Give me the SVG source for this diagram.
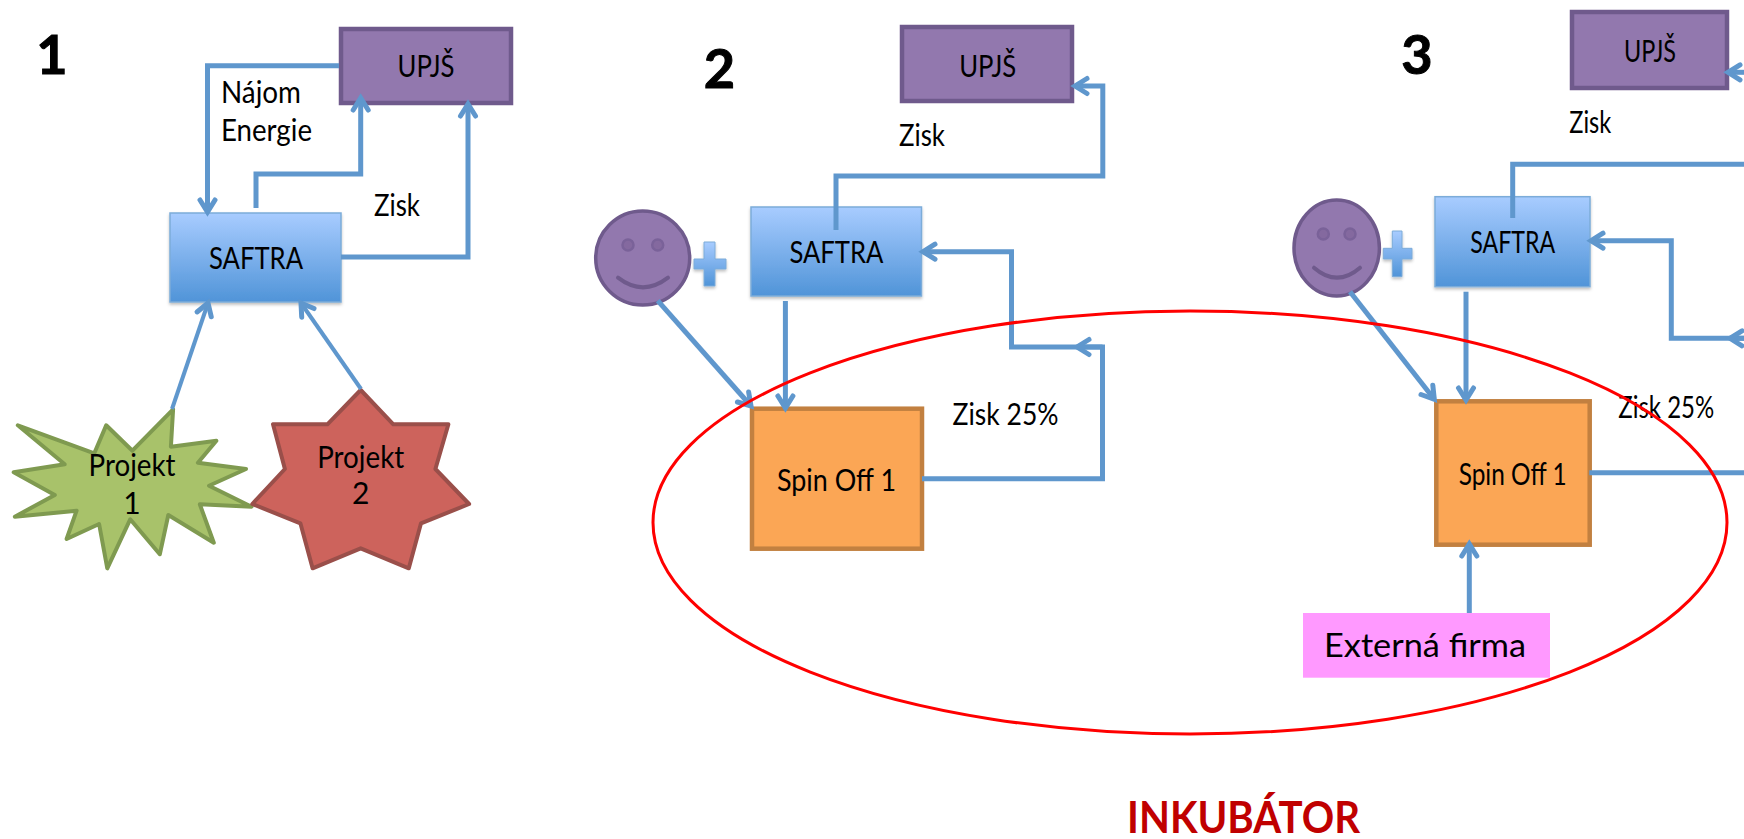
<svg xmlns="http://www.w3.org/2000/svg" width="1744" height="839" viewBox="0 0 1744 839">
<style>
text{font-family:Lato,"Liberation Sans",sans-serif;fill:#000;font-size:30px}
.m{text-anchor:middle}
.num{font-weight:700;font-size:54px;text-anchor:middle;stroke:#000;stroke-width:1}
.up{fill:#9278ae;stroke:#6f5a8c;stroke-width:4.500}
.saf{fill:url(#blue);stroke:#7cacd9;stroke-width:1.500;filter:url(#sh)}
.spin{fill:#fba655;stroke:#c28040;stroke-width:4.500}
.face{fill:#9278ae;stroke:#6f5a8c;stroke-width:3.500}
.eye{fill:#84699f;stroke:#7a6299;stroke-width:2.500}
.smile{fill:none;stroke:#6f5a8c;stroke-width:4;stroke-linecap:round}
.plus{fill:url(#blue);stroke:#7cacd9;stroke-width:1;filter:url(#sh)}
.c{fill:none;stroke:#5f97cd;stroke-width:5;stroke-linejoin:miter}
.a{marker-end:url(#arr)}
</style>
<defs>
<linearGradient id="blue" x1="0" y1="0" x2="0" y2="1"><stop offset="0" stop-color="#a8ccff"/><stop offset="1" stop-color="#5094d8"/></linearGradient>
<filter id="sh" x="-10%" y="-10%" width="120%" height="125%"><feDropShadow dx="0" dy="2" stdDeviation="1.500" flood-color="#000" flood-opacity="0.25"/></filter>
<marker id="arr" markerUnits="userSpaceOnUse" markerWidth="24" markerHeight="24" refX="18" refY="12" orient="auto" viewBox="0 0 24 24"><path d="M6,4.500 L18,12 L6,19.500" fill="none" stroke="#5f97cd" stroke-width="5" stroke-linecap="round" stroke-linejoin="miter"/></marker>
</defs>
<rect width="1744" height="839" fill="#fff"/>

<g id="label-1"><text class="num" x="52" y="74">1</text></g>
<g id="label-2"><text class="num" x="719.500" y="88">2</text></g>
<g id="label-3"><text class="num" x="1417" y="74">3</text></g>

<g id="upjs-1"><rect class="up" x="341" y="29" width="170" height="74"/><text class="m" x="426" y="77" textLength="57" lengthAdjust="spacingAndGlyphs">UPJŠ</text></g>
<g id="saftra-1"><rect class="saf" x="170" y="213" width="171" height="89"/><text class="m" x="256" y="269" textLength="94" lengthAdjust="spacingAndGlyphs">SAFTRA</text></g>
<g id="projekt-1"><polygon points="173.100,409.300 170.900,446.700 216.400,440.700 197.900,462.700 246,469 209,485.700 251.600,506.700 199.800,504.300 213.800,542.700 168.300,515 159.800,554.300 130.200,519.300 107.300,568.300 99.100,524 66.600,539 76.600,510.700 14.800,516.700 54.800,495 13.700,472.300 64.700,464.300 17.800,425.300 94.300,453.300 106.200,425.300 132.400,450.700" fill="#a8c26a" stroke="#7f9a50" stroke-width="4" stroke-linejoin="round"/><text class="m" x="132" y="476" textLength="87" lengthAdjust="spacingAndGlyphs">Projekt</text><text class="m" x="132" y="514">1</text></g>
<g id="projekt-2"><polygon points="360.700,390 393.300,424.300 448.400,424.300 435.400,469 469.100,504 421,523.300 408.800,568.300 360.700,548.300 312.600,568.300 300.400,523.300 252.300,504 284.900,469 273,424.300 327.400,424.300" fill="#cd635c" stroke="#9a4f4a" stroke-width="4" stroke-linejoin="round"/><text class="m" x="360.700" y="467.700" textLength="87" lengthAdjust="spacingAndGlyphs">Projekt</text><text class="m" x="360.700" y="504">2</text></g>

<g id="upjs-2"><rect class="up" x="902" y="27" width="170" height="74"/><text class="m" x="987.700" y="76.700" textLength="57" lengthAdjust="spacingAndGlyphs">UPJŠ</text></g>
<g id="saftra-2"><rect class="saf" x="751" y="207" width="170.500" height="89"/><text class="m" x="836.400" y="263" textLength="94" lengthAdjust="spacingAndGlyphs">SAFTRA</text></g>
<g id="person-2"><ellipse class="face" cx="642.700" cy="258" rx="47" ry="47"/><circle class="eye" cx="628" cy="245" r="5.500"/><circle class="eye" cx="657.700" cy="245" r="5.500"/><path class="smile" d="M618,277.700 Q643,297 668,277.700"/></g>
<g id="plus-2"><path class="plus" d="M704,242H715V259H726V269H715V286H704V269H694V259H704Z"/></g>
<g id="spinoff-2"><rect class="spin" x="752" y="408.700" width="170" height="140"/><text class="m" x="836.500" y="490.700" textLength="119" lengthAdjust="spacingAndGlyphs">Spin Off 1</text></g>

<g id="upjs-3"><rect class="up" x="1572" y="12" width="155" height="76"/><text class="m" x="1650" y="62.300" textLength="52" lengthAdjust="spacingAndGlyphs">UPJŠ</text></g>
<g id="saftra-3"><rect class="saf" x="1435" y="196.700" width="155" height="90"/><text class="m" x="1512.700" y="253.300" textLength="85" lengthAdjust="spacingAndGlyphs">SAFTRA</text></g>
<g id="person-3"><ellipse class="face" cx="1336.700" cy="248" rx="42.700" ry="48"/><circle class="eye" cx="1323.300" cy="234" r="5.500"/><circle class="eye" cx="1350" cy="234" r="5.500"/><path class="smile" d="M1314,267.700 Q1337,287.700 1360,267.700"/></g>
<g id="plus-3"><path class="plus" d="M1392.300,231H1402V248.300H1412V259H1402V276.700H1392.300V259H1383.300V248.300H1392.300Z"/></g>
<g id="spinoff-3"><rect class="spin" x="1436.300" y="401.300" width="153.400" height="143.400"/><text class="m" x="1512.700" y="485" textLength="108" lengthAdjust="spacingAndGlyphs">Spin Off 1</text></g>
<g id="externa"><rect x="1303" y="613" width="247" height="64.700" fill="#ff99ff"/><text x="1324" y="657.300" style="font-size:33px" textLength="202" lengthAdjust="spacingAndGlyphs">Externá firma</text></g>

<g id="labels">
<text x="221" y="103" textLength="80" lengthAdjust="spacingAndGlyphs">Nájom</text>
<text x="221" y="141" textLength="91" lengthAdjust="spacingAndGlyphs">Energie</text>
<text x="374" y="216" textLength="46" lengthAdjust="spacingAndGlyphs">Zisk</text>
<text x="899" y="146" textLength="46" lengthAdjust="spacingAndGlyphs">Zisk</text>
<text x="952.600" y="425" textLength="106" lengthAdjust="spacingAndGlyphs">Zisk 25%</text>
<text x="1569.300" y="133.300" textLength="42" lengthAdjust="spacingAndGlyphs">Zisk</text>
<text x="1618.300" y="418.300" textLength="96" lengthAdjust="spacingAndGlyphs">Zisk 25%</text>
<text x="1127" y="833" style="font-size:43px;font-weight:700;fill:#c00000" textLength="233" lengthAdjust="spacingAndGlyphs">INKUBÁTOR</text>
</g>

<g id="connectors">
<path class="c a" d="M339,65.700H207.500V212"/>
<path class="c a" d="M256,208V174H360.700V98"/>
<path class="c a" d="M341,257H468V104"/>
<path class="c a" style="stroke-width:4" d="M172,409L208,303"/>
<path class="c a" style="stroke-width:4" d="M361,389L301,303"/>
<path class="c a" d="M836,230V176H1102.800V86H1075"/>
<path class="c a" d="M922,478.700H1102.500V347H1077"/>
<path class="c a" d="M1102.500,347H1011.500V251.700H923"/>
<path class="c a" d="M657.700,300.700L751,406"/>
<path class="c a" d="M785.400,301V408"/>
<path class="c a" d="M1760,72.300H1728"/>
<path class="c" d="M1512.700,218V164.300H1744"/>
<path class="c a" d="M1760,338.300H1671.300V240.700H1591"/>
<path class="c a" d="M1760,338.300H1730"/>
<path class="c a" d="M1350,291.700L1434.300,399.300"/>
<path class="c a" d="M1466,291.700V400"/>
<path class="c" d="M1589.300,472.700H1744"/>
<path class="c a" d="M1469.300,613V544"/>
</g>

<g id="inkubator"><ellipse cx="1190" cy="522.500" rx="537" ry="211.500" fill="none" stroke="#ff0000" stroke-width="3"/></g>
</svg>
